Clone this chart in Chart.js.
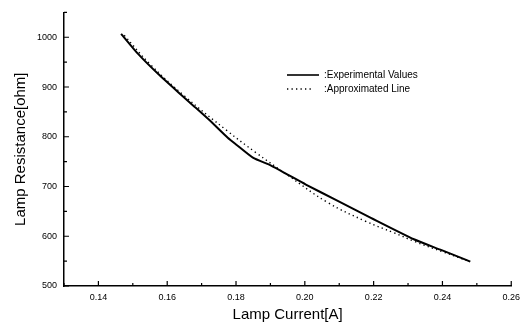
<!DOCTYPE html>
<html>
<head>
<meta charset="utf-8">
<script src="https://cdn.jsdelivr.net/npm/chart.js@4/dist/chart.umd.min.js"></script>
<style>
  html, body { margin: 0; padding: 0; background: #fff; }
  #wrap { width: 526px; height: 328px; position: relative; }
</style>
</head>
<body>
<div id="wrap"><canvas id="c" width="526" height="328"></canvas></div>
<script>
// ---- data ----
const expCurrent    = [0.1466, 0.1516, 0.1574, 0.1641, 0.1680, 0.1728, 0.1776, 0.1801, 0.1849, 0.1902, 0.1950, 0.2003, 0.2090, 0.2192, 0.2317, 0.2394, 0.2467, 0.2481];
const expResistance = [1007,   966,    926,    884,    860,    830,    798,    784,    758,    742,    724,    704,    673,    637,    594,    573,    553,    549];
const approxCurrent    = [0.1475, 0.155, 0.165, 0.1776, 0.1858, 0.195, 0.2066, 0.2177, 0.2259, 0.2317, 0.240, 0.248];
const approxResistance = [1004,   946,   882,   811,    768,    723,   668,    630,    607,    590,    569,   549];
const xTickValues = [0.14, 0.16, 0.18, 0.20, 0.22, 0.24, 0.26];
const xMinorTicks = [0.13, 0.15, 0.17, 0.19, 0.21, 0.23, 0.25];
const yTickValues = [500, 600, 700, 800, 900, 1000];
const yMinorTicks = [550, 650, 750, 850, 950, 1050];
const seriesNames = ['Experimental Values', 'Approximated Line'];

const toPts = (xs, ys) => xs.map((x, i) => ({x: x, y: ys[i]}));

const FONT = '"Liberation Sans", Arial, sans-serif';

const tickPlugin = {
  id: 'innerTicks',
  afterDraw(chart) {
    const ctx = chart.ctx;
    const xs = chart.scales.x, ys = chart.scales.y;
    const ca = chart.chartArea;
    ctx.save();
    ctx.strokeStyle = '#000';
    ctx.lineWidth = 1.2;
    ctx.beginPath();
    xTickValues.forEach(v => { const p = xs.getPixelForValue(v); ctx.moveTo(p, ca.bottom); ctx.lineTo(p, ca.bottom - 5); });
    xMinorTicks.forEach(v => { const p = xs.getPixelForValue(v); ctx.moveTo(p, ca.bottom); ctx.lineTo(p, ca.bottom - 3); });
    yTickValues.forEach(v => { const p = ys.getPixelForValue(v); ctx.moveTo(ca.left, p); ctx.lineTo(ca.left + 5, p); });
    yMinorTicks.forEach(v => { const p = ys.getPixelForValue(v); ctx.moveTo(ca.left, p); ctx.lineTo(ca.left + 3, p); });
    ctx.stroke();

    // legend
    const lx = 287, ly = 75;
    ctx.lineWidth = 1.6;
    ctx.beginPath(); ctx.moveTo(lx, ly); ctx.lineTo(lx + 32, ly); ctx.stroke();
    ctx.setLineDash([1.3, 3.2]);
    ctx.lineWidth = 1.3;
    ctx.beginPath(); ctx.moveTo(lx, ly + 14); ctx.lineTo(lx + 27, ly + 14); ctx.stroke();
    ctx.setLineDash([]);
    ctx.fillStyle = '#000';
    ctx.font = '10px ' + FONT;
    ctx.textBaseline = 'middle';
    ctx.textAlign = 'left';
    ctx.fillText(':' + seriesNames[0], lx + 37, ly);
    ctx.fillText(':' + seriesNames[1], lx + 37, ly + 14);
    ctx.restore();
  }
};

new Chart(document.getElementById('c'), {
  type: 'scatter',
  data: {
    datasets: [
      {
        label: seriesNames[0],
        data: toPts(expCurrent, expResistance),
        showLine: true,
        borderColor: '#000',
        borderWidth: 2,
        pointRadius: 0,
        tension: 0.2,
        fill: false
      },
      {
        label: seriesNames[1],
        data: toPts(approxCurrent, approxResistance),
        showLine: true,
        borderColor: '#000',
        borderWidth: 1.4,
        borderDash: [1.3, 3.2],
        pointRadius: 0,
        tension: 0.4,
        fill: false
      }
    ]
  },
  options: {
    responsive: false,
    animation: false,
    layout: { padding: { top: 12, right: 12, left: 0, bottom: 0 } },
    plugins: { legend: { display: false }, tooltip: { enabled: false } },
    scales: {
      x: {
        type: 'linear',
        min: 0.13, max: 0.26,
        afterBuildTicks: s => { s.ticks = xTickValues.map(v => ({value: v})); },
        afterFit: s => { s.height = 42; },
        grid: { display: false, drawTicks: false },
        border: { display: true, color: '#000', width: 1.5 },
        ticks: {
          color: '#000', padding: 6,
          font: { family: FONT, size: 9 },
          callback: v => v.toFixed(2),
          maxRotation: 0, autoSkip: false
        },
        title: {
          display: true, text: 'Lamp Current[A]', color: '#000',
          font: { family: FONT, size: 15 },
          padding: { top: 0, bottom: 4 }
        }
      },
      y: {
        type: 'linear',
        min: 500, max: 1050,
        afterBuildTicks: s => { s.ticks = yTickValues.map(v => ({value: v})); },
        afterFit: s => { s.width = 64; },
        grid: { display: false, drawTicks: false },
        border: { display: true, color: '#000', width: 1.5 },
        ticks: {
          color: '#000', padding: 7,
          font: { family: FONT, size: 9 },
          callback: v => String(v),
          autoSkip: false
        },
        title: {
          display: true, text: 'Lamp Resistance[ohm]', color: '#000',
          font: { family: FONT, size: 15 },
          padding: { top: 12, bottom: 0 }
        }
      }
    }
  },
  plugins: [tickPlugin]
});
</script>
</body>
</html>
